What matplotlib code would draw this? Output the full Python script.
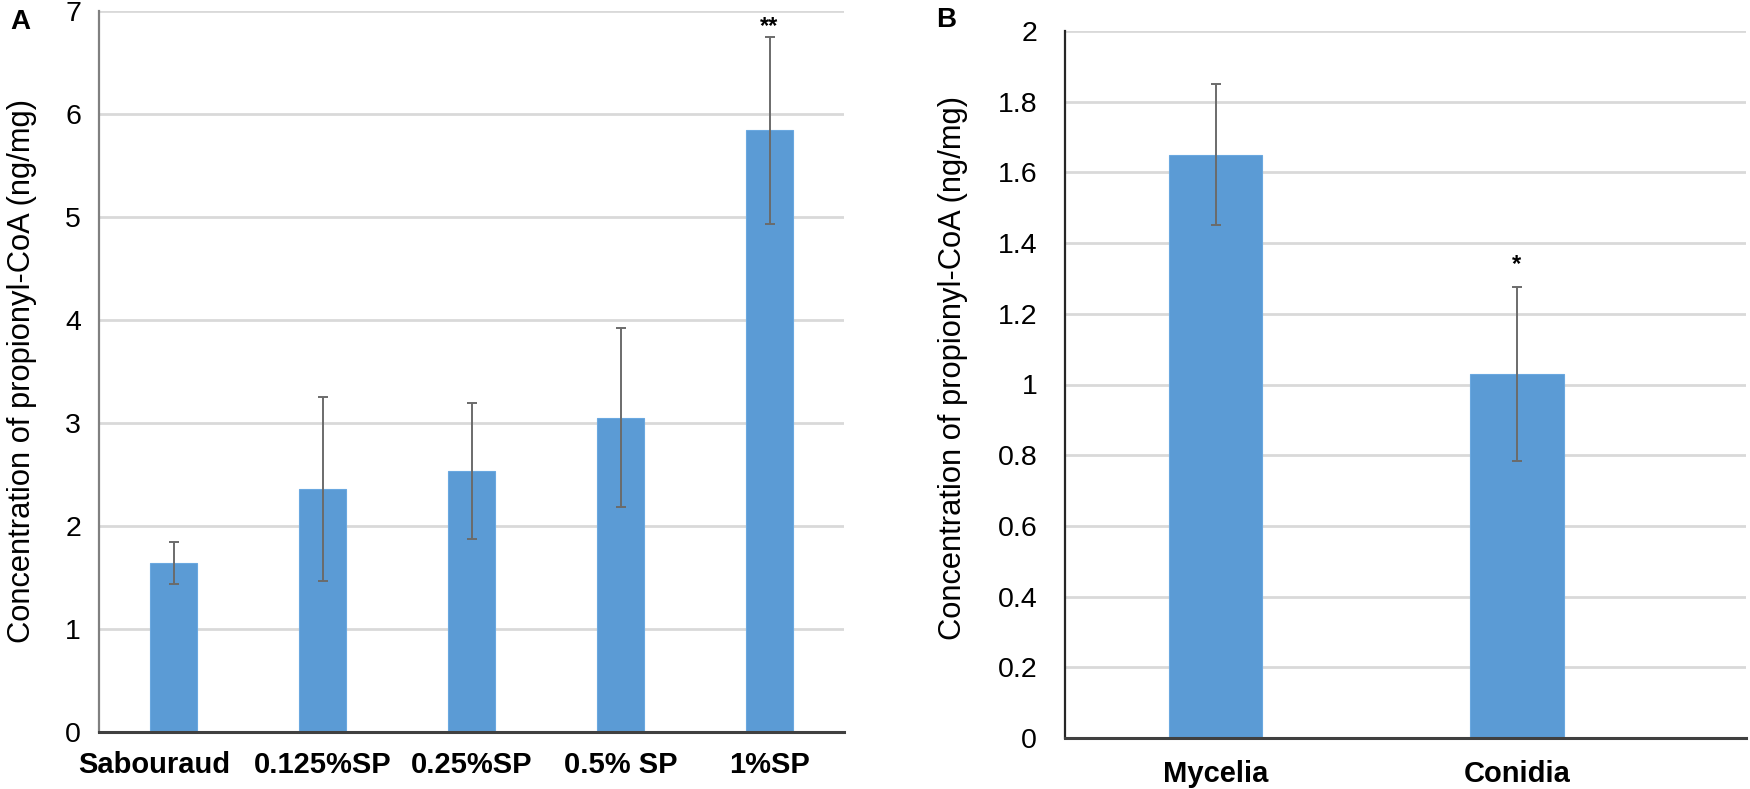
import matplotlib
matplotlib.use("Agg")
import matplotlib.pyplot as plt
import matplotlib.transforms as mtransforms
import numpy as np

# ---- data ----
cats_a = ['Sabouraud', '0.125%SP', '0.25%SP', '0.5% SP', '1%SP']
vals_a = [1.64, 2.36, 2.53, 3.05, 5.84]
err_a = [0.20, 0.89, 0.66, 0.87, 0.91]
sig_a = ['', '', '', '', '**']

cats_b = ['Mycelia', 'Conidia']
vals_b = [1.65, 1.03]
err_b = [0.20, 0.245]
sig_b = ['', '*']

ylabel = 'Concentration of propionyl-CoA (ng/mg)'

plt.rcParams['font.family'] = ['Liberation Sans', 'DejaVu Sans']

W, H = 1750, 789
fig = plt.figure(figsize=(W / 100, H / 100), dpi=100)

bar_color = '#5B9BD5'
grid_color = '#D9D9D9'
err_color = '#6B6B6B'


def style_axes(ax, left_color, tick_pad_y, xlab_pad):
    ax.set_axisbelow(True)
    ax.yaxis.grid(True, color=grid_color, linewidth=2.0)
    ax.xaxis.grid(False)
    for s in ['top', 'right']:
        ax.spines[s].set_visible(False)
    ax.spines['left'].set_color(left_color)
    ax.spines['left'].set_linewidth(1.6)
    ax.spines['bottom'].set_color('#404040')
    ax.spines['bottom'].set_linewidth(2.2)
    ax.tick_params(axis='y', length=0, pad=tick_pad_y, labelsize=20.5, colors='#000000')
    ax.tick_params(axis='x', length=0, pad=xlab_pad, labelsize=21)
    for lab in ax.get_xticklabels():
        lab.set_fontweight('bold')


# ---- Panel A ----
axA = fig.add_axes([99 / W, (H - 732) / H, 745 / W, 721 / H])
xa = np.arange(len(cats_a))
axA.bar(xa, vals_a, width=0.31, color=bar_color, edgecolor='#6AA8E0', linewidth=0.8, zorder=2)
axA.errorbar(xa, vals_a, yerr=err_a, fmt='none', ecolor=err_color, elinewidth=1.4,
             capsize=3.5, capthick=1.4, zorder=3)
axA.set_xlim(-0.5, 4.5)
axA.set_ylim(0, 7)
axA.set_yticks(np.arange(0, 8, 1))
axA.set_yticklabels([str(v) for v in range(0, 8)])
axA.set_xticks(xa)
axA.set_xticklabels(cats_a)
style_axes(axA, '#808080', 13, 14)
# first category label sits slightly left of its bar, as in the source
first = axA.get_xticklabels()[0]
first.set_transform(first.get_transform() +
                    mtransforms.ScaledTranslation(-19 / 100, 0, fig.dpi_scale_trans))
for x, v, e, s in zip(xa, vals_a, err_a, sig_a):
    if s:
        axA.text(x, v + e + 0.1, s, ha='center', va='center', fontsize=17, fontweight='bold')

# ---- Panel B ----
axB = fig.add_axes([1065 / W, (H - 738) / H, 681 / W, 707 / H])
xb = np.arange(len(cats_b))
axB.bar(xb, vals_b, width=0.31, color=bar_color, edgecolor='#6AA8E0', linewidth=0.8, zorder=2)
axB.errorbar(xb, vals_b, yerr=err_b, fmt='none', ecolor=err_color, elinewidth=1.4,
             capsize=3.5, capthick=1.4, zorder=3)
axB.set_xlim(-0.5, 1.76)
axB.set_ylim(0, 2)
yb = np.round(np.arange(0, 2.01, 0.2), 1)
axB.set_yticks(yb)
axB.set_yticklabels(['0' if v == 0 else ('1' if v == 1 else ('2' if v == 2 else f'{v:.1f}')) for v in yb])
axB.set_xticks(xb)
axB.set_xticklabels(cats_b)
style_axes(axB, '#262626', 20, 16)
for x, v, e, s in zip(xb, vals_b, err_b, sig_b):
    if s:
        axB.text(x, v + e + 0.065, s, ha='center', va='center', fontsize=17, fontweight='bold')

# ---- y labels, sized to span ~543 px ----
fig.canvas.draw()
renderer = fig.canvas.get_renderer()
for xc, yc in [(22, 371), (953, 368)]:
    t = fig.text(xc / W, 1 - yc / H, ylabel, rotation=90, ha='center', va='center', fontsize=21)
    ext = t.get_window_extent(renderer)
    t.set_fontsize(21 * 543 / ext.height)

# ---- panel letters ----
fig.text(20 / W, 1 - 22 / H, 'A', fontsize=20, fontweight='bold', ha='center', va='center')
fig.text(946 / W, 1 - 20 / H, 'B', fontsize=20, fontweight='bold', ha='center', va='center')

fig.savefig('out.png', dpi=100)
